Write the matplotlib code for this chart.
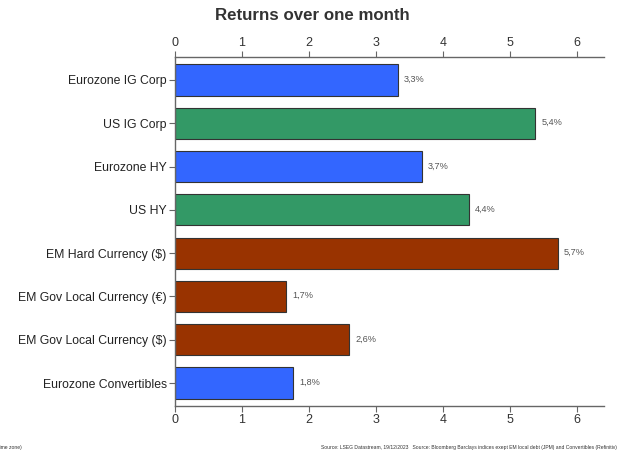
import numpy as np
from matplotlib import pyplot as plt

plt.rcParams['font.family'] = ['Liberation Sans', 'DejaVu Sans']

categories = ["Eurozone IG Corp", "US IG Corp", "Eurozone HY", "US HY",
              "EM Hard Currency ($)", "EM Gov Local Currency (€)",
              "EM Gov Local Currency ($)", "Eurozone Convertibles"]
returns = [3.32, 5.37, 3.68, 4.38, 5.71, 1.66, 2.60, 1.76]
labels = ["3,3%", "5,4%", "3,7%", "4,4%", "5,7%", "1,7%", "2,6%", "1,8%"]
colors = ["#3366FF", "#339966", "#3366FF", "#339966",
          "#993300", "#993300", "#993300", "#3366FF"]

fig = plt.figure(figsize=(6.25, 4.54), dpi=100)
ax = fig.add_axes([0.28, 0.1057, 0.6864, 0.7687])

y = np.arange(len(categories))
ax.barh(y, returns, height=0.72, color=colors, edgecolor="#333333", linewidth=0.8)
for yi, v, lab in zip(y, returns, labels):
    ax.annotate(lab, (v, yi), xytext=(4.5, 0.5), textcoords="offset points",
                fontsize=6.6, color="#555555", va="center", ha="left")

ax.set_xlim(0, 6.4)
ax.set_ylim(len(categories) - 0.47, -0.53)
ax.set_xticks(range(7))
ax.set_yticks(y)
ax.set_yticklabels(categories)

for s in ["top", "bottom", "left"]:
    ax.spines[s].set_color("#666666")
    ax.spines[s].set_linewidth(1.0)
ax.spines["right"].set_visible(False)
ax.tick_params(axis="x", top=True, labeltop=True, direction="out",
               length=4, color="#666666", labelsize=9, labelcolor="#333333", pad=2)
ax.tick_params(axis="y", direction="out", length=4, color="#666666",
               labelsize=8.8, labelcolor="#222222", pad=2)

fig.suptitle("Returns over one month", x=0.5, y=0.982, fontsize=12.2,
             fontweight="bold", color="#333333")

fig.text(22 / 625, 0.012, "(In local currency, over one month, same time zone)",
         ha="right", fontsize=3.65, color="#333333")
fig.text(617 / 625, 0.012,
         "Source: LSEG Datastream, 19/12/2023   Source: Bloomberg Barclays indices exept EM local debt (JPM) and Convertibles (Refinitiv)",
         ha="right", fontsize=3.65, color="#333333")

fig.savefig("out.png", dpi=100)
